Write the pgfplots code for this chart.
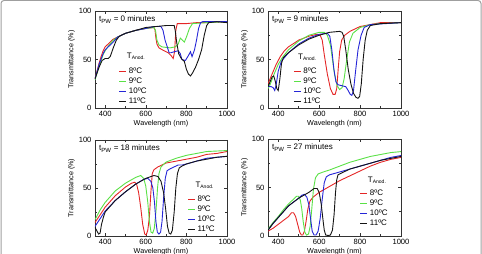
\documentclass[border=0pt]{standalone}
\usepackage{fontspec}
\setmainfont{Liberation Sans}
\usepackage{pgfplots}
\pgfplotsset{compat=1.18}

\definecolor{cRed}{RGB}{228,38,38}
\definecolor{cGreen}{RGB}{90,225,70}
\definecolor{cBlue}{RGB}{38,38,215}
\definecolor{cBlack}{RGB}{20,20,20}

\tikzset{
  tlabel/.style={font=\fontsize{8}{9}\selectfont, anchor=north west, inner sep=0pt},
  ltitle/.style={font=\fontsize{8}{9}\selectfont, anchor=north west, inner sep=0pt},
}

% one style per anodization temperature, with its own short legend sample
\pgfplotsset{
  sRed/.style={color=cRed, line width=0.9pt,
    legend image code/.code={\draw[draw=cRed, line width=1pt] (0pt,0pt) -- (7pt,0pt);}},
  sGreen/.style={color=cGreen, line width=0.9pt,
    legend image code/.code={\draw[draw=cGreen, line width=1pt] (0pt,0pt) -- (7pt,0pt);}},
  sBlue/.style={color=cBlue, line width=0.9pt,
    legend image code/.code={\draw[draw=cBlue, line width=1pt] (0pt,0pt) -- (7pt,0pt);}},
  sBlack/.style={color=cBlack, line width=0.9pt,
    legend image code/.code={\draw[draw=cBlack, line width=1pt] (0pt,0pt) -- (7pt,0pt);}},
}

\pgfplotsset{
  panel/.style={
    scale only axis, width=132pt, height=97pt,
    anchor=south west,
    xmin=350, xmax=1000, ymin=0, ymax=100,
    xtick={400,600,800,1000}, ytick={0,50,100},
    minor x tick num=1, minor y tick num=1,
    tick align=inside, tick pos=both,
    major tick length=3pt, minor tick length=1.8pt,
    axis line style={line width=0.6pt, black!80},
    every tick/.style={black!80, line width=0.5pt},
    tick label style={font=\fontsize{7.6}{8}\selectfont},
    label style={font=\fontsize{7.2}{8}\selectfont},
    xlabel={Wavelength (nm)}, ylabel={Transmittance (\%)},
    xlabel style={yshift=3pt}, ylabel style={yshift=-3pt},
    /pgf/number format/assume math mode=true,
    /pgf/number format/1000 sep={},
    legend cell align=left,
    legend style={draw=none, fill=none, font=\fontsize{8}{9}\selectfont,
      anchor=north west, row sep=-1.2pt, inner sep=0pt},
  },
}

\begin{document}
\begin{tikzpicture}
\path[use as bounding box] (0,0) rectangle (482pt,254pt);
\draw[gray!75, line width=1pt, rounded corners=3pt] (1pt,-10pt) rectangle (481pt,253.5pt);

% ---------- t_PW = 0 minutes ----------
\begin{axis}[panel, at={(95pt,146pt)},
  legend style={at={(rel axis cs:0.18,0.435)}}]
\addplot[sRed] coordinates {(350,30)(360,38)(370,46)(380,53)(390,59)(400,63)(420,67)(440,71)(460,73)(480,75)(500,77)(550,80)(600,82)(640,83)(645,81)(650,72)(655,66)(665,62)(690,59)(710,57)(725,54)(735,51)(742,58)(748,80)(755,87)(800,87)(850,88)(900,88)(1000,89)};
\addlegendentry{8ºC}
\addplot[sGreen] coordinates {(350,29)(370,43)(390,55)(400,59)(420,65)(440,70)(460,73)(480,75)(500,77)(550,80)(600,82)(640,83)(648,80)(655,70)(665,65)(680,63)(720,62)(745,63)(760,66)(770,72)(780,70)(790,68)(800,73)(815,82)(830,87)(900,88)(1000,89)};
\addlegendentry{9ºC}
\addplot[sBlue] coordinates {(350,30)(370,45)(390,56)(400,60)(420,64)(440,68)(460,73)(480,75)(500,77)(550,80)(600,82)(640,84)(675,84)(685,80)(695,70)(706,63)(715,57)(725,57)(740,58)(760,59)(770,56)(778,50)(795,49)(810,54)(820,58)(828,53)(840,60)(850,70)(860,82)(870,88)(880,89)(1000,89)};
\addlegendentry{10ºC}
\addplot[sBlack] coordinates {(350,30)(370,42)(385,49)(400,51)(415,51)(425,53)(440,62)(455,70)(470,74)(500,77)(550,80)(600,83)(650,84)(700,85)(740,85)(745,80)(752,68)(762,56)(775,51)(790,48)(800,40)(810,35)(820,33)(830,36)(845,42)(860,50)(875,60)(888,75)(900,85)(910,88)(950,89)(1000,88)};
\addlegendentry{11ºC}
\node[tlabel] at (rel axis cs:0.03,0.95) {t\textsubscript{PW} = 0 minutes};
\node[ltitle] at (rel axis cs:0.24,0.567) {T\textsubscript{\tiny Anod.}};
\end{axis}

% ---------- t_PW = 9 minutes ----------
\begin{axis}[panel, at={(268pt,146pt)}, width=133pt,
  legend style={at={(rel axis cs:0.19,0.435)}}]
\addplot[sRed] coordinates {(350,25)(370,35)(390,45)(410,53)(430,59)(450,63)(500,70)(550,74)(590,76)(605,75)(615,70)(625,55)(640,35)(655,20)(668,14)(678,14)(686,20)(693,40)(700,58)(710,70)(725,75)(750,79)(800,84)(850,86)(900,88)(1000,88)};
\addlegendentry{8ºC}
\addplot[sGreen] coordinates {(350,20)(360,24)(380,35)(400,45)(420,52)(450,60)(500,69)(550,75)(600,78)(625,78)(640,75)(655,65)(665,50)(675,35)(688,23)(700,19)(712,21)(722,30)(735,50)(748,68)(765,77)(800,83)(850,86)(900,87)(1000,88)};
\addlegendentry{9ºC}
\addplot[sBlue] coordinates {(350,22)(365,22)(375,21)(383,18)(390,24)(400,38)(415,48)(450,57)(500,66)(550,72)(600,76)(640,77)(652,74)(662,60)(672,40)(682,27)(692,24)(710,23)(730,22)(742,18)(752,14)(760,13)(768,18)(778,38)(790,60)(805,75)(820,83)(850,86)(1000,88)};
\addlegendentry{10ºC}
\addplot[sBlack] coordinates {(350,22)(360,27)(370,32)(378,33)(385,28)(393,20)(400,18)(408,30)(416,46)(425,52)(450,57)(500,65)(550,71)(600,75)(650,78)(700,79)(712,78)(720,74)(730,60)(742,40)(755,25)(768,15)(780,11)(790,10)(798,12)(806,25)(815,50)(825,70)(835,80)(850,85)(900,87)(1000,88)};
\addlegendentry{11ºC}
\node[tlabel] at (rel axis cs:0.03,0.95) {t\textsubscript{PW} = 9 minutes};
\node[ltitle] at (rel axis cs:0.225,0.557) {T\textsubscript{\tiny Anod.}};
\end{axis}

% ---------- t_PW = 18 minutes ----------
\begin{axis}[panel, at={(95pt,18pt)}, height=96pt,
  legend style={at={(rel axis cs:0.70,0.44)}}]
\addplot[sRed] coordinates {(350,14)(375,22)(400,30)(450,42)(500,51)(530,55)(545,56)(555,54)(565,45)(575,30)(585,12)(595,2)(602,1)(610,6)(618,20)(625,45)(632,65)(640,69)(660,72)(700,76)(750,78)(800,80)(850,82)(900,85)(950,86)(1000,88)};
\addlegendentry{8ºC}
\addplot[sGreen] coordinates {(350,17)(375,27)(400,35)(450,47)(500,55)(550,61)(575,63)(590,60)(600,52)(610,35)(618,15)(626,4)(634,3)(642,8)(650,25)(658,50)(665,65)(675,72)(700,77)(750,81)(800,84)(850,86)(900,88)(1000,89)};
\addlegendentry{9ºC}
\addplot[sBlue] coordinates {(350,10)(375,18)(400,26)(450,37)(500,46)(550,54)(590,59)(610,60)(625,57)(635,50)(643,35)(650,15)(657,4)(665,2)(673,4)(680,15)(688,40)(696,60)(705,68)(720,70)(740,72)(760,74)(780,74)(800,75)(850,78)(900,81)(950,82)(1000,83)};
\addlegendentry{10ºC}
\addplot[sBlack] coordinates {(350,9)(360,5)(368,2)(375,3)(382,12)(392,20)(400,25)(450,37)(500,46)(550,54)(600,60)(640,63)(660,62)(675,57)(688,45)(698,28)(707,10)(715,3)(723,2)(731,6)(740,25)(748,50)(756,65)(765,71)(780,73)(800,75)(850,78)(900,80)(950,82)(1000,83)};
\addlegendentry{11ºC}
\node[tlabel] at (rel axis cs:0.03,0.95) {t\textsubscript{PW} = 18 minutes};
\node[ltitle] at (rel axis cs:0.76,0.5625) {T\textsubscript{\tiny Anod.}};
\end{axis}

% ---------- t_PW = 27 minutes ----------
\begin{axis}[panel, at={(268pt,18pt)}, width=133pt,
  legend style={at={(rel axis cs:0.69,0.495)}}]
\addplot[sRed] coordinates {(350,5)(375,8)(400,12)(425,16)(450,20)(465,24)(475,24)(485,20)(495,12)(505,4)(513,1)(520,1)(528,5)(536,15)(545,28)(555,36)(570,40)(600,45)(650,51)(700,57)(750,62)(800,67)(850,72)(900,76)(950,79)(1000,81)};
\addlegendentry{8ºC}
\addplot[sGreen] coordinates {(350,7)(375,14)(400,20)(425,27)(450,33)(475,38)(490,41)(500,41)(508,37)(515,28)(522,15)(530,4)(538,1)(548,2)(556,10)(564,28)(572,48)(582,60)(595,64)(620,66)(650,68)(700,72)(750,76)(800,79)(850,82)(900,84)(950,86)(1000,87)};
\addlegendentry{9ºC}
\addplot[sBlue] coordinates {(350,6)(375,13)(400,19)(450,31)(500,39)(515,42)(528,43)(540,40)(550,32)(558,18)(566,5)(575,1)(585,1)(595,5)(605,18)(615,38)(625,55)(635,61)(650,63)(700,66)(750,69)(800,72)(850,75)(900,78)(950,81)(1000,83)};
\addlegendentry{10ºC}
\addplot[sBlack] coordinates {(350,6)(375,13)(400,19)(450,31)(500,39)(550,45)(575,49)(590,49)(600,45)(610,33)(618,18)(625,6)(632,1)(645,0.5)(655,1)(665,6)(673,22)(680,45)(686,58)(692,63)(720,66)(750,69)(800,72)(850,75)(900,78)(950,80)(1000,82)};
\addlegendentry{11ºC}
\node[tlabel] at (rel axis cs:0.03,0.95) {t\textsubscript{PW} = 27 minutes};
\node[ltitle] at (rel axis cs:0.75,0.61) {T\textsubscript{\tiny Anod.}};
\end{axis}
\end{tikzpicture}
\end{document}
